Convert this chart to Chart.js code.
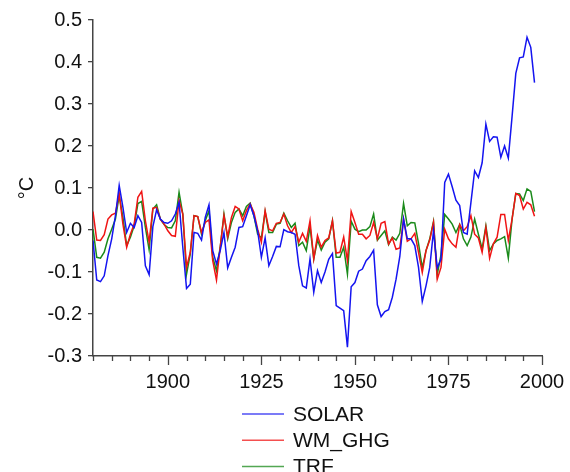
<!DOCTYPE html>
<html>
<head>
<meta charset="utf-8">
<script src="https://cdn.jsdelivr.net/npm/chart.js@4.4.1/dist/chart.umd.min.js"></script>
<style>
  html, body { margin: 0; padding: 0; background: #ffffff; }
  #wrap { width: 570px; height: 472px; position: relative; }
</style>
</head>
<body>
<div id="wrap"><canvas id="c" width="570" height="472"></canvas></div>
<script>
// ---- data ----
const years = [];
for (let y = 1880; y <= 1998; y++) years.push(y);

const solar = [
  -0.025, -0.119, -0.123, -0.109, -0.061, -0.021, 0.034, 0.106, 0.054, -0.006,
  0.016, 0.006, 0.034, 0.018, -0.085, -0.106, 0.008, 0.048, 0.026, 0.018,
  0.016, 0.022, 0.038, 0.066, -0.041, -0.139, -0.129, -0.006, -0.008, -0.024,
  0.030, 0.060, -0.049, -0.081, -0.049, -0.006, -0.090, -0.065, -0.041, 0.006,
  0.008, 0.034, 0.060, 0.034, -0.002, -0.065, -0.019, -0.085, -0.063, -0.039,
  -0.040, 0.001, -0.004, -0.006, -0.010, -0.085, -0.133, -0.138, -0.069, -0.148,
  -0.097, -0.125, -0.100, -0.070, -0.056, -0.180, -0.186, -0.192, -0.279, -0.135,
  -0.125, -0.098, -0.093, -0.073, -0.063, -0.048, -0.178, -0.206, -0.194, -0.190,
  -0.160, -0.117, -0.063, 0.026, -0.021, -0.021, -0.037, -0.089, -0.170, -0.133,
  -0.089, -0.002, -0.090, -0.070, 0.113, 0.133, 0.103, 0.071, 0.058, -0.006,
  -0.010, 0.065, 0.141, 0.125, 0.160, 0.252, 0.211, 0.222, 0.221, 0.173,
  0.200, 0.171, 0.270, 0.373, 0.410, 0.412, 0.459, 0.435, 0.351
];

const wmGhg = [
  0.044, -0.024, -0.025, -0.011, 0.026, 0.036, 0.040, 0.086, 0.014, -0.041,
  -0.010, 0.014, 0.078, 0.092, 0.022, -0.029, 0.052, 0.054, 0.026, 0.014,
  -0.002, -0.013, -0.015, 0.070, 0.038, -0.089, -0.053, 0.034, 0.032, -0.006,
  0.018, 0.024, -0.073, -0.119, -0.041, 0.034, -0.016, 0.030, 0.056, 0.050,
  0.022, 0.046, 0.062, 0.042, 0.002, -0.029, 0.046, 0.002, -0.002, 0.016,
  0.018, 0.038, 0.010, -0.006, 0.008, -0.029, -0.008, -0.027, 0.022, -0.069,
  -0.013, -0.041, -0.025, -0.019, 0.022, -0.055, -0.053, -0.017, -0.073, 0.044,
  0.018, -0.010, -0.010, -0.021, -0.013, 0.018, -0.021, 0.016, 0.020, -0.033,
  -0.019, -0.046, -0.043, 0.026, -0.027, -0.021, -0.008, -0.053, -0.101, -0.049,
  -0.024, 0.018, -0.117, -0.089, 0.002, -0.021, -0.033, -0.041, 0.013, -0.002,
  0.008, 0.034, -0.010, -0.019, -0.053, 0.006, -0.067, -0.033, -0.017, 0.037,
  0.037, -0.025, 0.026, 0.087, 0.082, 0.050, 0.066, 0.060, 0.033
];

const trf = [
  0.002, -0.065, -0.067, -0.053, -0.021, 0.002, 0.026, 0.082, 0.030, -0.037,
  -0.017, 0.010, 0.063, 0.068, 0.006, -0.047, 0.050, 0.060, 0.026, 0.013,
  0.006, 0.005, 0.022, 0.090, 0.038, -0.105, -0.057, 0.034, 0.032, -0.010,
  0.022, 0.046, -0.065, -0.097, -0.041, 0.038, -0.021, 0.018, 0.042, 0.050,
  0.034, 0.056, 0.064, 0.034, -0.010, -0.019, 0.044, -0.006, -0.006, 0.014,
  0.016, 0.040, 0.022, 0.006, 0.016, -0.037, -0.029, -0.049, 0.008, -0.069,
  -0.024, -0.048, -0.029, -0.021, 0.022, -0.065, -0.065, -0.041, -0.105, 0.021,
  0.002, -0.004, 0.000, 0.000, 0.008, 0.038, -0.024, -0.013, -0.002, -0.035,
  -0.017, -0.024, -0.008, 0.063, 0.010, 0.018, 0.017, -0.032, -0.090, -0.049,
  -0.021, 0.020, -0.106, -0.059, 0.037, 0.026, 0.014, -0.006, 0.013, -0.021,
  -0.037, -0.017, 0.026, -0.010, -0.045, 0.010, -0.049, -0.033, -0.025, -0.021,
  -0.016, -0.067, 0.026, 0.087, 0.086, 0.070, 0.098, 0.092, 0.044
];

const seriesNames = ['SOLAR', 'WM_GHG', 'TRF'];
const xTickLabels = [1900, 1925, 1950, 1975, 2000];
const xMinorTicks = [];
for (let y = 1880; y <= 2000; y += 5) xMinorTicks.push(y);
const yTickValues = [-0.3, -0.2, -0.1, 0.0, 0.1, 0.2, 0.3, 0.4, 0.5];

// ---- styles ----
const FONT = "'Liberation Sans', Arial, sans-serif";
const AXIS_COLOR = '#444444';
const colors = ['#1414f0', '#f01414', '#1a8a1a'];

const toPts = arr => arr.map((v, i) => ({ x: years[i], y: v }));

const xTicksPlugin = {
  id: 'xTicks',
  afterDraw(chart) {
    const ctx = chart.ctx;
    const xs = chart.scales.x;
    const base = chart.chartArea.bottom;
    ctx.save();
    ctx.strokeStyle = AXIS_COLOR;
    ctx.lineWidth = 1.3;
    xMinorTicks.forEach(v => {
      const px = Math.round(xs.getPixelForValue(v)) + 0.5;
      const len = xTickLabels.includes(v) ? 9 : 5;
      ctx.beginPath();
      ctx.moveTo(px, base);
      ctx.lineTo(px, base + len);
      ctx.stroke();
    });
    ctx.restore();
  }
};

const legendPlugin = {
  id: 'vLegend',
  afterDraw(chart) {
    const ctx = chart.ctx;
    ctx.save();
    ctx.font = '21px ' + FONT;
    ctx.textBaseline = 'middle';
    ctx.textAlign = 'left';
    chart.data.datasets.forEach((ds, i) => {
      const y = 414 + i * 26.3;
      ctx.strokeStyle = ds.borderColor;
      ctx.globalAlpha = 0.75;
      ctx.lineWidth = 1.5;
      ctx.beginPath();
      ctx.moveTo(242, y);
      ctx.lineTo(284, y);
      ctx.stroke();
      ctx.globalAlpha = 1;
      ctx.fillStyle = '#111111';
      ctx.fillText(ds.label, 293, y + 1);
    });
    ctx.restore();
  }
};

new Chart(document.getElementById('c'), {
  type: 'line',
  data: {
    datasets: [
      { label: seriesNames[0], data: toPts(solar), borderColor: colors[0] },
      { label: seriesNames[1], data: toPts(wmGhg), borderColor: colors[1] },
      { label: seriesNames[2], data: toPts(trf), borderColor: colors[2] }
    ].map(d => Object.assign(d, {
      borderWidth: 1.5, pointRadius: 0, tension: 0, fill: false
    }))
  },
  options: {
    responsive: false,
    animation: false,
    devicePixelRatio: 1,
    layout: { padding: { left: 0, top: 20, right: 28, bottom: 76 } },
    plugins: { legend: { display: false }, tooltip: { enabled: false } },
    scales: {
      x: {
        type: 'linear',
        min: 1880, max: 2000,
        afterBuildTicks: s => { s.ticks = xTickLabels.map(v => ({ value: v })); },
        afterFit: s => { s.height = 40; },
        grid: { display: true, drawOnChartArea: false, drawTicks: true, tickLength: 9, color: 'rgba(0,0,0,0)' },
        border: { display: true, color: AXIS_COLOR, width: 1.5 },
        ticks: { color: '#111111', font: { family: FONT, size: 20 }, padding: 5, maxRotation: 0, autoSkip: false,
                 callback: v => String(v) }
      },
      y: {
        type: 'linear',
        min: -0.3, max: 0.5,
        afterBuildTicks: s => { s.ticks = yTickValues.map(v => ({ value: v })); },
        afterFit: s => { s.width = 93; },
        grid: { display: true, drawOnChartArea: false, drawTicks: true, tickLength: 5, color: AXIS_COLOR, lineWidth: 1.3 },
        border: { display: true, color: AXIS_COLOR, width: 1.5 },
        ticks: { color: '#111111', font: { family: FONT, size: 20 }, padding: 6,
                 callback: v => Number(v).toFixed(1) },
        title: { display: true, text: '°C', color: '#111111', font: { family: FONT, size: 20 }, padding: { top: 15, bottom: 0 } }
      }
    }
  },
  plugins: [xTicksPlugin, legendPlugin]
});
</script>
</body>
</html>
